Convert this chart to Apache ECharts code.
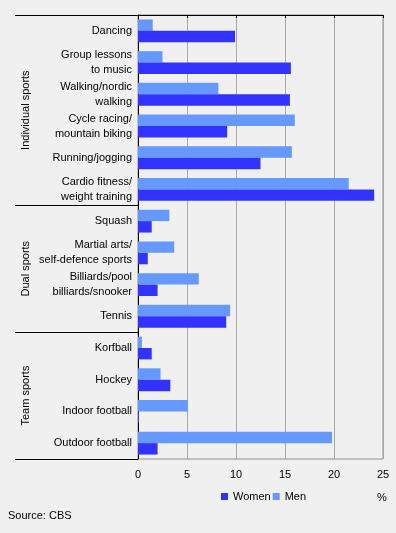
<!DOCTYPE html>
<html>
<head>
<meta charset="utf-8">
<style>
html, body { margin: 0; padding: 0; background: #f0f0f0; }
#chart { width: 396px; height: 533px; }
</style>
<script src="https://cdn.jsdelivr.net/npm/echarts@6/dist/echarts.min.js"></script>
</head>
<body>
<div id="chart"></div>
<script>
// categories, top to bottom
var categories = ['Dancing', 'Group lessons\nto music', 'Walking/nordic\nwalking', 'Cycle racing/\nmountain biking',
    'Running/jogging', 'Cardio fitness/\nweight training', 'Squash', 'Martial arts/\nself-defence sports',
    'Billiards/pool\nbilliards/snooker', 'Tennis', 'Korfball', 'Hockey', 'Indoor football', 'Outdoor football'];
var men = [1.5, 2.5, 8.2, 16.0, 15.7, 21.5, 3.2, 3.7, 6.2, 9.4, 0.4, 2.3, 5.1, 19.8];
var women = [9.9, 15.6, 15.5, 9.1, 12.5, 24.1, 1.4, 1.0, 2.0, 9.0, 1.4, 3.3, 0.1, 2.0];
var groups = ['Individual sports', 'Dual sports', 'Team sports'];
var groupSizes = [6, 4, 4];
var xMax = 25, xStep = 5;

var font = 'Liberation Sans, Arial, sans-serif';

// group boundaries and centres (in category units)
var bounds = [0], centers = [];
groupSizes.forEach(function (n, i) {
    centers.push(bounds[i] + n / 2);
    bounds.push(bounds[i] + n);
});

var option = {
    backgroundColor: '#f0f0f0',
    animation: false,
    textStyle: { fontFamily: font },
    grid: { left: 138, right: 13, top: 15, bottom: 74, show: true, borderColor: '#909090', borderWidth: 1 },
    legend: {
        data: ['Women', 'Men'],
        left: 221, top: 491, padding: 0,
        icon: 'rect', itemWidth: 7, itemHeight: 7, itemGap: 2,
        textStyle: { fontSize: 11, color: '#000', fontFamily: font }
    },
    xAxis: {
        type: 'value', min: 0, max: xMax, interval: xStep,
        axisLine: { show: true, lineStyle: { color: '#000' } },
        axisTick: { show: true, length: 3, lineStyle: { color: '#000' } },
        splitLine: { show: true, lineStyle: { color: '#a8a8a8' } },
        axisLabel: { fontSize: 11, color: '#000', margin: 10, fontFamily: font }
    },
    yAxis: [{
        type: 'category', data: categories, inverse: true,
        axisLine: { show: true, lineStyle: { color: '#000' } },
        axisTick: { show: false },
        axisLabel: { interval: 0, fontSize: 11, color: '#000', lineHeight: 15, margin: 6, fontFamily: font }
    }, {
        // helper axis: group separators + group names
        type: 'value', min: 0, max: categories.length, inverse: true, position: 'left',
        axisLine: { show: false },
        splitLine: { show: false },
        axisTick: { show: true, customValues: bounds, length: 123, lineStyle: { color: '#000' } },
        axisLabel: {
            customValues: centers, rotate: 90, margin: 107, fontSize: 11, color: '#000', fontFamily: font,
            formatter: function (v) { return groups[centers.indexOf(v)]; }
        }
    }],
    series: [{
        name: 'Men', type: 'bar', data: men,
        itemStyle: { color: '#6699ff' },
        barGap: '0%', barCategoryGap: '28%'
    }, {
        name: 'Women', type: 'bar', data: women,
        itemStyle: { color: '#3333ff' },
        barGap: '0%', barCategoryGap: '28%'
    }],
    graphic: [
        { type: 'text', left: 377, top: 492, style: { text: '%', fontSize: 11, fill: '#000', fontFamily: font } },
        { type: 'text', left: 8, top: 510, style: { text: 'Source: CBS', fontSize: 11, fill: '#000', fontFamily: font } }
    ]
};

var myChart = echarts.init(document.getElementById('chart'));
myChart.setOption(option);
</script>
</body>
</html>
